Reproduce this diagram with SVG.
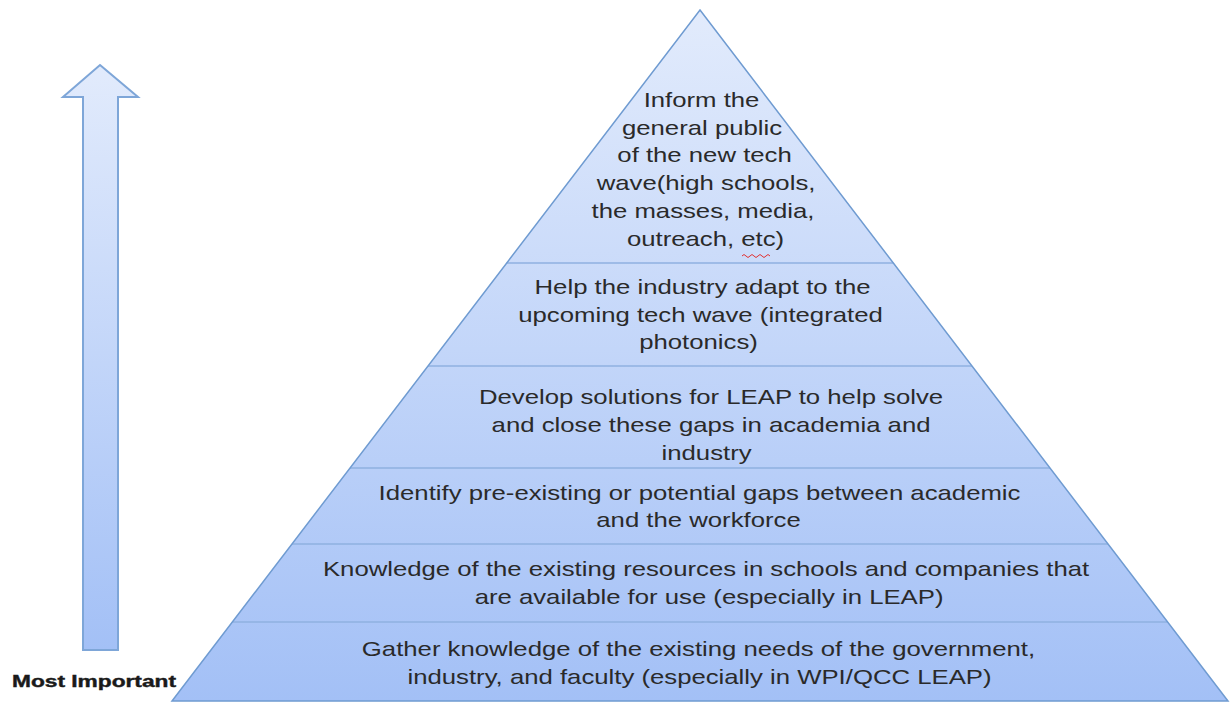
<svg xmlns="http://www.w3.org/2000/svg" width="1231" height="704" viewBox="0 0 1231 704">
<defs>
<linearGradient id="pg" gradientUnits="userSpaceOnUse" x1="0" y1="10" x2="0" y2="701">
<stop offset="0" stop-color="#e2ebfc"/>
<stop offset="1" stop-color="#a3c0f6"/>
</linearGradient>
<linearGradient id="ag" gradientUnits="userSpaceOnUse" x1="0" y1="65" x2="0" y2="650">
<stop offset="0" stop-color="#e2ebfc"/>
<stop offset="1" stop-color="#a3c0f6"/>
</linearGradient>
<style>
.band{fill:url(#pg);stroke:none}
.div{stroke:#8fb0e0;stroke-width:1.5;fill:none}
.edge{fill:none;stroke:#6f9bd1;stroke-width:1.5;stroke-linejoin:miter}
.t{font-family:"Liberation Sans",Arial,sans-serif;font-size:20.5px;fill:#2a2a2a;text-anchor:middle}
.lbl{font-family:"Liberation Sans",Arial,sans-serif;font-size:16px;font-weight:bold;fill:#1a1a1a;stroke:#1a1a1a;stroke-width:0.4}
</style>
</defs>
<rect width="1231" height="704" fill="#ffffff"/>
<g id="arrow">
<polygon points="100,65 138,97 118,97 118,650 83,650 83,97 63,97" fill="url(#ag)" stroke="#7ea6d8" stroke-width="2"/>
</g>
<g id="label">
<text class="lbl" x="12" y="687" textLength="164" lengthAdjust="spacingAndGlyphs">Most Important</text>
</g>
<g id="pyramid">
<polygon class="band" points="700,10 1228,701 172,701"/>
<line class="div" x1="506.7" y1="263" x2="893.3" y2="263"/>
<line class="div" x1="428" y1="366" x2="972" y2="366"/>
<line class="div" x1="350" y1="468" x2="1050" y2="468"/>
<line class="div" x1="292" y1="544" x2="1108" y2="544"/>
<line class="div" x1="232.4" y1="622" x2="1167.6" y2="622"/>
<polygon class="edge" points="700,10 1228,701 172,701"/>
<path d="M742,256 q2,-3 4,0 t4,0 t4,0 t4,0 t4,0 t4,0 t4,0" fill="none" stroke="#e03030" stroke-width="1"/>
<g transform="translate(700,0) scale(1.255,1)">
<g id="level6">
<text class="t" x="1.2" y="107">Inform the</text>
<text class="t" x="1.6" y="135">general public</text>
<text class="t" x="3.6" y="162">of the new tech</text>
<text class="t" x="4.8" y="190">wave(high schools,</text>
<text class="t" x="2.4" y="218">the masses, media,</text>
<text class="t" x="4.4" y="246">outreach, etc)</text>
</g>
<g id="level5">
<text class="t" x="2" y="294">Help the industry adapt to the</text>
<text class="t" x="0.4" y="322">upcoming tech wave (integrated</text>
<text class="t" x="-1.2" y="349">photonics)</text>
</g>
<g id="level4">
<text class="t" x="8.8" y="404">Develop solutions for LEAP to help solve</text>
<text class="t" x="8.8" y="432">and close these gaps in academia and</text>
<text class="t" x="5.2" y="460">industry</text>
</g>
<g id="level3">
<text class="t" x="-0.4" y="500">Identify pre-existing or potential gaps between academic</text>
<text class="t" x="-1.2" y="527">and the workforce</text>
</g>
<g id="level2">
<text class="t" x="4.8" y="576">Knowledge of the existing resources in schools and companies that</text>
<text class="t" x="7.2" y="604">are available for use (especially in LEAP)</text>
</g>
<g id="level1">
<text class="t" x="-1.2" y="656">Gather knowledge of the existing needs of the government,</text>
<text class="t" x="-0.4" y="684">industry, and faculty (especially in WPI/QCC LEAP)</text>
</g>
</g>
</g>
</svg>
